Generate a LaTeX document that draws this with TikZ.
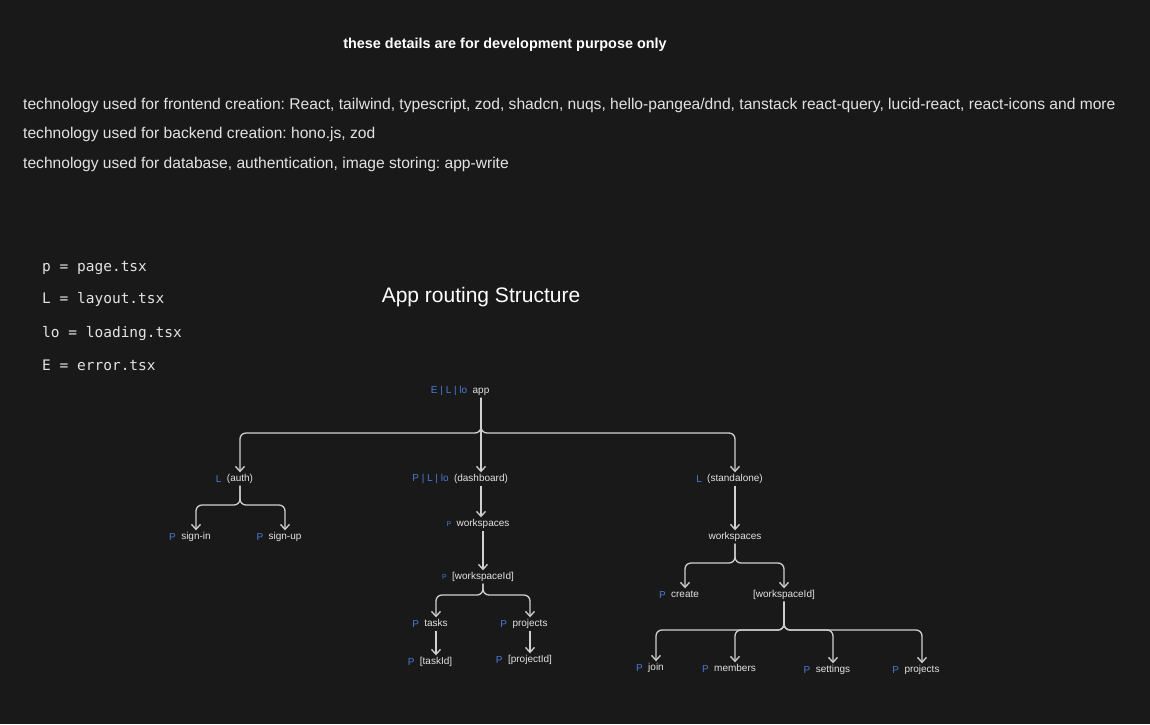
\documentclass[tikz,border=0pt]{standalone}
\usepackage{fontspec}
\setmainfont{Liberation Sans}
\setmonofont{DejaVu Sans Mono}
\usetikzlibrary{arrows.meta}
\definecolor{bgdark}{HTML}{191919}
\definecolor{inkgray}{HTML}{E3E3E3}
\definecolor{tagblue}{HTML}{4A7BD6}
\definecolor{wiregray}{HTML}{D0D0D0}
\frenchspacing
\begin{document}
\begin{tikzpicture}
[x=1pt,y=-1pt,%
  every node/.style={inner sep=2pt,text=inkgray},%
  route/.style={font=\fontsize{10}{12}\selectfont,text height=7pt,text depth=2pt,yshift=-2pt},%
  tag/.style={anchor=east,xshift=-2pt,inner xsep=1pt,text=tagblue,font=\fontsize{10}{12}\selectfont},%
  smalltag/.style={tag,font=\fontsize{7}{8}\selectfont},%
  wire/.style={->,>={Straight Barb[length=5pt,width=9pt]},draw=wiregray,line width=1.3pt,rounded corners=6pt}]
\fill[bgdark] (0,0) rectangle (1150,724);
% notes on top
\node[font=\bfseries\fontsize{14.4}{16}\selectfont,text=white] (devnote) at (505,45) {these details are for development purpose only};
\node[anchor=west,font=\fontsize{15.6}{18}\selectfont] (front) at (21,105) {technology used for frontend creation: React, tailwind, typescript, zod, shadcn, nuqs, hello-pangea/dnd, tanstack react-query, lucid-react, react-icons and more};
\node[anchor=west,font=\fontsize{15.6}{18}\selectfont] (back) at (21,134) {technology used for backend creation: hono.js, zod};
\node[anchor=west,font=\fontsize{15.6}{18}\selectfont] (store) at (21,164) {technology used for database, authentication, image storing: app-write};
% legend
\node[anchor=west,font=\ttfamily\fontsize{14.5}{17}\selectfont] (keyp) at (40,268) {p = page.tsx};
\node[anchor=west,font=\ttfamily\fontsize{14.5}{17}\selectfont] (keyl) at (40,299) {L = layout.tsx};
\node[anchor=west,font=\ttfamily\fontsize{14.5}{17}\selectfont] (keylo) at (40,333) {lo = loading.tsx};
\node[anchor=west,font=\ttfamily\fontsize{14.5}{17}\selectfont] (keye) at (40,365) {E = error.tsx};
\node[font=\fontsize{21}{24}\selectfont,text=white] (title) at (481,297) {App routing Structure};
% routes
\node[route] (app) at (481,389) {app};
\node[tag] at (app.west) {E | L | lo};
\node[route] (auth) at (240,477) {(auth)};
\node[tag] at (auth.west) {L};
\node[route] (dash) at (481,477) {(dashboard)};
\node[tag] at (dash.west) {P | L | lo};
\node[route] (stand) at (735,477) {(standalone)};
\node[tag] at (stand.west) {L};
\node[route] (signin) at (196,535) {sign-in};
\node[tag] at (signin.west) {P};
\node[route] (signup) at (285,535) {sign-up};
\node[tag] at (signup.west) {P};
\node[route] (dws) at (483,522) {workspaces};
\node[smalltag] at (dws.west) {P};
\node[route] (dwsid) at (483,575) {[workspaceId]};
\node[smalltag] at (dwsid.west) {P};
\node[route] (tasks) at (436,622) {tasks};
\node[tag] at (tasks.west) {P};
\node[route] (dproj) at (530,622) {projects};
\node[tag] at (dproj.west) {P};
\node[route] (taskid) at (436,660) {[taskId]};
\node[tag] at (taskid.west) {P};
\node[route] (projid) at (530,658) {[projectId]};
\node[tag] at (projid.west) {P};
\node[route] (sws) at (735,535) {workspaces};
\node[route] (create) at (685,593) {create};
\node[tag] at (create.west) {P};
\node[route] (swsid) at (784,593) {[workspaceId]};
\node[route] (join) at (656,666) {join};
\node[tag] at (join.west) {P};
\node[route] (members) at (735,667) {members};
\node[tag] at (members.west) {P};
\node[route] (settings) at (833,668) {settings};
\node[tag] at (settings.west) {P};
\node[route] (sproj) at (922,668) {projects};
\node[tag] at (sproj.west) {P};
% forks
\coordinate (appfork) at (481,433);
\coordinate (authfork) at (240,505);
\coordinate (dwsfork) at (483,595);
\coordinate (swsfork) at (735,563);
\coordinate (swsidfork) at (784,630);
% links
\draw[wire] (app) -- (appfork) -| (auth);
\draw[wire] (app) -- (appfork) -| (stand);
\draw[wire] (app) -- (dash);
\draw[wire] (auth) -- (authfork) -| (signin);
\draw[wire] (auth) -- (authfork) -| (signup);
\draw[wire] (dash) -- (dash |- dws.north);
\draw[wire] (dws) -- (dwsid);
\draw[wire] (dwsid) -- (dwsfork) -| (tasks);
\draw[wire] (dwsid) -- (dwsfork) -| (dproj);
\draw[wire] (tasks) -- (taskid);
\draw[wire] (dproj) -- (projid);
\draw[wire] (stand) -- (sws);
\draw[wire] (sws) -- (swsfork) -| (create);
\draw[wire] (sws) -- (swsfork) -| (swsid);
\draw[wire] (swsid) -- (swsidfork) -| (join);
\draw[wire] (swsid) -- (swsidfork) -| (members);
\draw[wire] (swsid) -- (swsidfork) -| (settings);
\draw[wire] (swsid) -- (swsidfork) -| (sproj);
\end{tikzpicture}
\end{document}
